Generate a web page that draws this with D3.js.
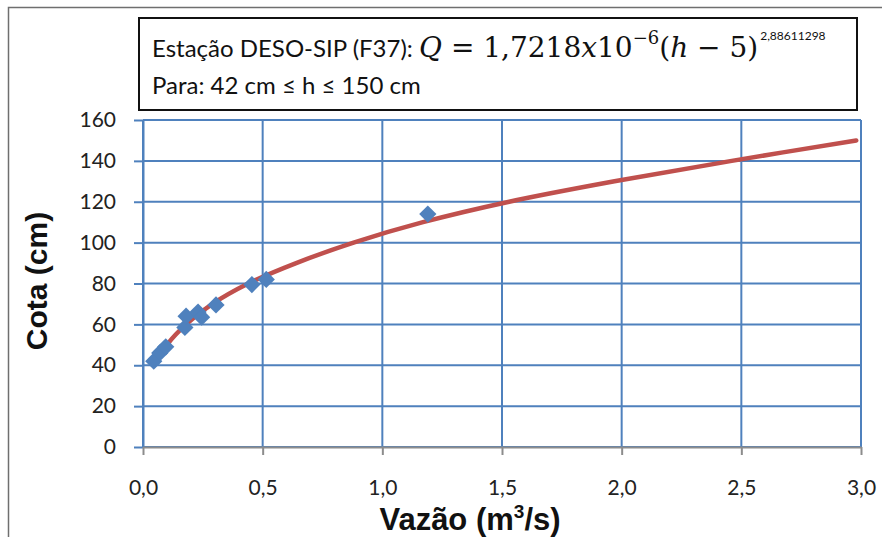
<!DOCTYPE html>
<html>
<head>
<meta charset="utf-8">
<script src="https://cdn.jsdelivr.net/npm/d3@7"></script>
<style>
  body { margin:0; background:#fff; }
  svg { display:block; }
</style>
</head>
<body>
<svg></svg>
<script>
// measured points (vazao m3/s, cota cm)
var vazao = [0.045, 0.07, 0.095, 0.175, 0.18, 0.23, 0.245, 0.305, 0.455, 0.515, 1.19];
var cota  = [42, 46, 49, 58.5, 64, 66, 63.5, 69.5, 79.5, 82, 114];

// rating curve
var curveCota  = [42, 50, 60, 70, 80, 90, 100, 110, 120, 130, 140, 150];
var curveVazao = [0.058, 0.10, 0.18, 0.29, 0.44, 0.64, 0.88, 1.17, 1.53, 1.97, 2.46, 2.98];

var xTicks = [0, 0.5, 1, 1.5, 2, 2.5, 3];
var yTicks = [0, 20, 40, 60, 80, 100, 120, 140, 160];

var screen = { width: 882, height: 537 };
var svg = d3.select('svg')
            .attr('width', screen.width)
            .attr('height', screen.height);

var plot = { left: 143, right: 861, top: 120, bottom: 447 };
var width = plot.right - plot.left;
var height = plot.bottom - plot.top;

var xscale = d3.scaleLinear().domain([0, 3]).range([0, width]);
var yscale = d3.scaleLinear().domain([0, 160]).range([height, 0]);

var ptbr = d3.formatLocale({ decimal: ",", thousands: ".", grouping: [3], currency: ["R$", ""] });
var fmtX = ptbr.format(".1f");

var blue = '#4f81bd';
var red = '#c0504d';
var labelFont = 'Lato, "Liberation Sans", sans-serif';
var serif = '"DejaVu Serif", "Liberation Serif", serif';

// outer frame (only left and top visible)
svg.append('path')
   .attr('d', 'M8.5,537 L8.5,7.5 L882,7.5')
   .attr('fill', 'none')
   .attr('stroke', '#6f6f6f')
   .attr('stroke-width', 1.5);

var plotLand = svg.append('g')
                  .attr('transform', 'translate(' + plot.left + ',' + plot.top + ')');

// gridlines
plotLand.append('g')
        .selectAll('line')
        .data(yTicks)
        .enter()
        .append('line')
        .attr('x1', 0)
        .attr('x2', width)
        .attr('y1', function(d) { return yscale(d); })
        .attr('y2', function(d) { return yscale(d); })
        .attr('stroke', blue)
        .attr('stroke-width', 2);

plotLand.append('g')
        .selectAll('line')
        .data(xTicks)
        .enter()
        .append('line')
        .attr('x1', function(d) { return xscale(d); })
        .attr('x2', function(d) { return xscale(d); })
        .attr('y1', 0)
        .attr('y2', height)
        .attr('stroke', blue)
        .attr('stroke-width', 2);

// y axis
var yAxis = d3.axisLeft(yscale)
              .tickValues(yTicks)
              .tickSize(9)
              .tickPadding(18)
              .tickSizeOuter(0);
var yg = plotLand.append('g').call(yAxis);
yg.select('.domain').attr('stroke', blue).attr('stroke-width', 2);
yg.selectAll('.tick line').attr('stroke', blue).attr('stroke-width', 2);
yg.selectAll('text')
  .attr('font-family', labelFont)
  .attr('font-size', 21)
  .attr('fill', '#222');

// x axis
var xAxis = d3.axisBottom(xscale)
              .tickValues(xTicks)
              .tickFormat(fmtX)
              .tickSize(8)
              .tickPadding(25)
              .tickSizeOuter(0);
var xg = plotLand.append('g')
                 .attr('transform', 'translate(0,' + height + ')')
                 .call(xAxis);
xg.select('.domain').attr('stroke', '#8c8c8c').attr('stroke-width', 2);
xg.selectAll('.tick line').attr('stroke', '#8c8c8c').attr('stroke-width', 2);
xg.selectAll('text')
  .attr('font-family', labelFont)
  .attr('font-size', 21)
  .attr('fill', '#222');

// rating curve
var curveData = curveCota.map(function(h, i) { return { q: curveVazao[i], h: h }; });
var line = d3.line()
             .x(function(d) { return xscale(d.q); })
             .y(function(d) { return yscale(d.h); })
             .curve(d3.curveCatmullRom);
plotLand.append('path')
        .datum(curveData)
        .attr('d', line)
        .attr('fill', 'none')
        .attr('stroke', red)
        .attr('stroke-width', 4.5)
        .attr('stroke-linecap', 'round');

// measurements
var pts = vazao.map(function(q, i) { return { q: q, h: cota[i] }; });
plotLand.selectAll('path.pt')
        .data(pts)
        .enter()
        .append('path')
        .attr('class', 'pt')
        .attr('d', d3.symbol().type(d3.symbolDiamond2).size(190))
        .attr('transform', function(d) { return 'translate(' + xscale(d.q) + ',' + yscale(d.h) + ')'; })
        .attr('fill', blue);

// axis titles
svg.append('text')
   .attr('transform', 'translate(47,281) rotate(-90)')
   .attr('text-anchor', 'middle')
   .attr('font-family', '"Liberation Sans", Arial, sans-serif')
   .attr('font-weight', 'bold')
   .attr('font-size', 30)
   .attr('fill', '#111')
   .text('Cota (cm)');

var xt = svg.append('text')
            .attr('x', 470)
            .attr('y', 530)
            .attr('text-anchor', 'middle')
            .attr('font-family', '"Liberation Sans", Arial, sans-serif')
            .attr('font-weight', 'bold')
            .attr('font-size', 31)
            .attr('fill', '#111');
xt.append('tspan').text('Vazão (m');
xt.append('tspan').attr('font-size', 19).attr('dy', -12).text('3');
xt.append('tspan').attr('dy', 12).text('/s)');

// annotation box
svg.append('rect')
   .attr('x', 139)
   .attr('y', 18)
   .attr('width', 718)
   .attr('height', 92)
   .attr('fill', '#fff')
   .attr('stroke', '#111')
   .attr('stroke-width', 2);

var fs = 28;
var l1 = svg.append('text')
            .attr('x', 152)
            .attr('y', 57)
            .attr('font-family', labelFont)
            .attr('font-size', 24)
            .attr('fill', '#111')
            .attr('xml:space', 'preserve');
l1.append('tspan').text('Estação DESO-SIP (F37): ');
l1.append('tspan').attr('font-family', serif).attr('font-style', 'italic').attr('font-size', fs).text('Q');
l1.append('tspan').attr('font-family', serif).attr('font-size', fs).text(' = 1,7218');
l1.append('tspan').attr('font-family', serif).attr('font-style', 'italic').attr('font-size', fs).text('x');
l1.append('tspan').attr('font-family', serif).attr('font-size', fs).text('10');
l1.append('tspan').attr('font-family', serif).attr('font-size', 18).attr('dy', -13).text('−6');
l1.append('tspan').attr('font-family', serif).attr('font-size', fs).attr('dy', 13).text('(');
l1.append('tspan').attr('font-family', serif).attr('font-style', 'italic').attr('font-size', fs).text('h');
l1.append('tspan').attr('font-family', serif).attr('font-size', fs).text(' − 5)');
l1.append('tspan').attr('font-family', labelFont).attr('font-size', 12).attr('dx', 2).attr('dy', -17).text('2,88611298');

svg.append('text')
   .attr('x', 152)
   .attr('y', 94)
   .attr('font-family', labelFont)
   .attr('font-size', 24)
   .attr('fill', '#111')
   .text('Para: 42 cm ≤ h ≤ 150 cm');
</script>
</body>
</html>
